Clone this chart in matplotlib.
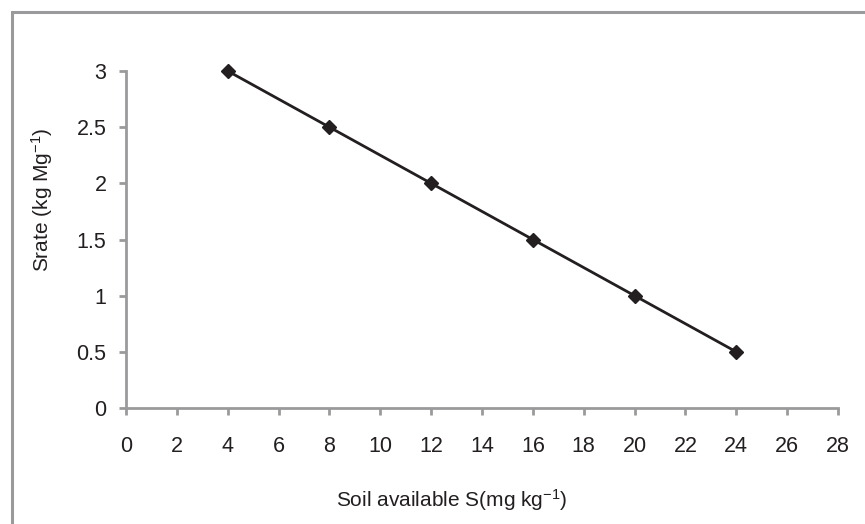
import numpy as np
import matplotlib.pyplot as plt
from matplotlib.patches import Rectangle

# soil available S vs S rate
soil_s = [4, 8, 12, 16, 20, 24]
s_rate = [3, 2.5, 2, 1.5, 1, 0.5]

xticks = list(range(0, 29, 2))
yticks = [0, 0.5, 1, 1.5, 2, 2.5, 3]
yticklabels = ['0', '0.5', '1', '1.5', '2', '2.5', '3']

plt.rcParams['font.family'] = ['Liberation Sans', 'DejaVu Sans']
plt.rcParams['mathtext.default'] = 'regular'
axcol = '#9a9a9c'
txtcol = '#231f20'

fig = plt.figure(figsize=(8.65, 5.24), dpi=100)
# outer chart frame (runs off the right/bottom edges)
fig.patches.append(Rectangle((12/865, -0.1), 1.2, 1 - 12/524 + 0.1,
                             transform=fig.transFigure, fill=False,
                             edgecolor=axcol, lw=2.2))

ax = fig.add_axes([126/865, 1 - 408/524, 712/865, 337/524])
ax.plot(soil_s, s_rate, color=txtcol, lw=2, marker='D', clip_on=False,
        markersize=7.5, markerfacecolor=txtcol, markeredgecolor=txtcol)

ax.set_xlim(0, 28)
ax.set_ylim(0, 3)
ax.set_xticks(xticks)
ax.set_yticks(yticks)
ax.set_yticklabels(yticklabels)
for s in ['top', 'right']:
    ax.spines[s].set_visible(False)
for s in ['left', 'bottom']:
    ax.spines[s].set_color(axcol)
    ax.spines[s].set_linewidth(2)
ax.tick_params(direction='out', length=5, width=2, color=axcol,
               labelsize=15.5, labelcolor=txtcol)
ax.tick_params(axis='x', pad=15)
ax.tick_params(axis='y', pad=9)

ax.text(0.458, -0.272, 'Soil available S(mg kg$^{\\mathregular{-1}}$)', fontsize=15,
        color=txtcol, ha='center', va='center', transform=ax.transAxes)
ax.text(-0.118, 0.617, 'Srate (kg Mg$^{\\mathregular{-1}}$)', fontsize=15, rotation=90,
        color=txtcol, ha='center', va='center', transform=ax.transAxes)

fig.savefig('out.png', dpi=100)
